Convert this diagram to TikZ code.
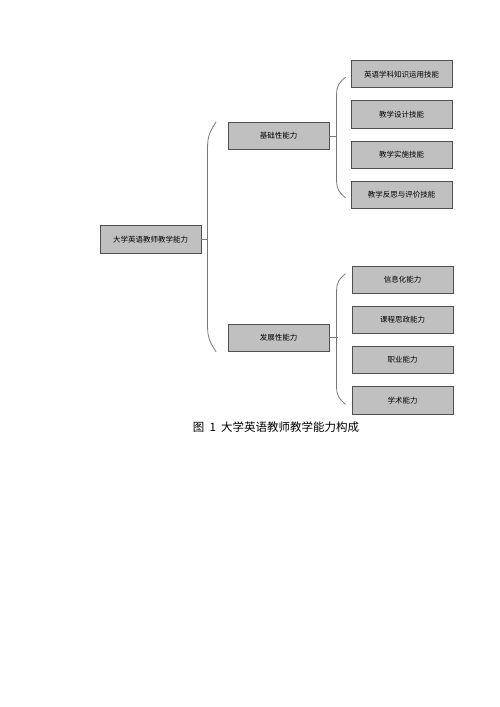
\documentclass[tikz,border=0pt]{standalone}
\usepackage{fontspec}
\setmainfont{Noto Sans CJK SC}
\usetikzlibrary{positioning}
\definecolor{boxgray}{RGB}{192, 192, 192}
\definecolor{edgegray}{RGB}{80, 80, 80}
\definecolor{linegray}{RGB}{120, 120, 120}

\begin{document}
\begin{tikzpicture}[x=1pt, y=-1pt, node distance=12pt and 22pt,
	box/.style={minimum width=101pt, minimum height=27.3pt, inner sep=0pt, draw=edgegray, fill=boxgray, line width=0.9pt, font=\fontsize{7.5}{9}\selectfont},
	brace/.style={draw=linegray, line width=0.8pt}]
	\useasboundingbox (0,0) rectangle (500,707);

	\node[box] (root) at (150.5,239.5) {大学英语教师教学能力};
	\node[box] (basic) at (278.5,136) {基础性能力};
	\node[box] (develop) at (278.5,337.7) {发展性能力};

	\node[box] (b1) at (401.5,74.2) {英语学科知识运用技能};
	\node[box, below=of b1] (b2) {教学设计技能};
	\node[box, below=of b2] (b3) {教学实施技能};
	\node[box, below=of b3] (b4) {教学反思与评价技能};

	\node[box] (d1) at (402.5,279.7) {信息化能力};
	\node[box, below=of d1] (d2) {课程思政能力};
	\node[box, below=of d2] (d3) {职业能力};
	\node[box, below=of d3] (d4) {学术能力};

	% root bracket
	\coordinate (rvert) at ([xshift=-20pt]basic.west);
	\coordinate (rtop) at ([xshift=-11.5pt]basic.north west);
	\coordinate (rbot) at ([xshift=-11.5pt]develop.south west);
	\draw[brace] (root.east) -- (root.east -| rvert);
	\draw[brace] (rtop) .. controls +(-5,8) and +(0,-12) .. ([shift={(-8.5,25)}]rtop) -- ([shift={(-8.5,-25)}]rbot) .. controls +(0,12) and +(-5,-8) .. (rbot);

	% basic bracket
	\coordinate (bvert) at ([xshift=-14pt]b1.west);
	\coordinate (btop) at ([shift={(-5,3)}]b1.west);
	\coordinate (bbot) at ([shift={(-5,3)}]b4.west);
	\draw[brace] (basic.east) -- (basic.east -| bvert);
	\draw[brace] (btop) .. controls +(-6,5) and +(0,-10) .. ([shift={(-9,18)}]btop) -- ([shift={(-9,-18)}]bbot) .. controls +(0,10) and +(-6,-5) .. (bbot);

	% develop bracket
	\coordinate (dvert) at ([xshift=-14pt]d1.west);
	\coordinate (dtop) at ([shift={(-6,-6)}]d1.west);
	\coordinate (dbot) at ([shift={(-6,4)}]d4.west);
	\draw[brace] (develop.east) -- (develop.east -| dvert);
	\draw[brace] (dtop) .. controls +(-6,5) and +(0,-10) .. ([shift={(-9,18)}]dtop) -- ([shift={(-9,-18)}]dbot) .. controls +(0,10) and +(-6,-5) .. (dbot);

	\node[font=\fontsize{11.5}{13}\selectfont] (caption) at (276,427) {图\hspace{0.45em}1\hspace{0.45em}大学英语教师教学能力构成};
\end{tikzpicture}
\end{document}
